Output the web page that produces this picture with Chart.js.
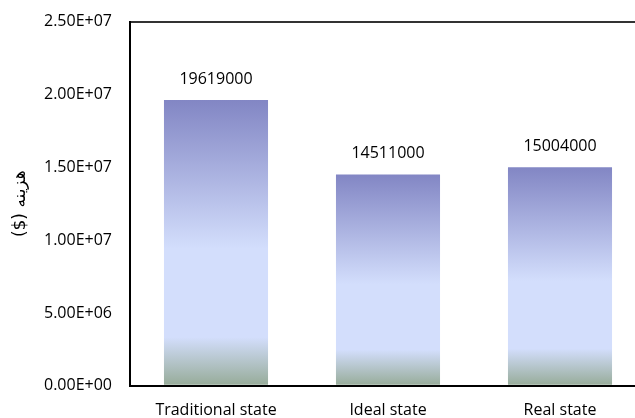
<!DOCTYPE html>
<html>
<head>
<meta charset="utf-8">
<script src="https://cdn.jsdelivr.net/npm/chart.js@4/dist/chart.umd.min.js"></script>
<style>
  html, body { margin: 0; padding: 0; background: #fff; overflow: hidden; }
  #wrap { width: 650px; height: 441px; margin-top: -6px; }
</style>
</head>
<body>
<div id="wrap"><canvas id="graph_cost"></canvas></div>
<script>
/*------------------------------*/
/*           DATA               */
/*------------------------------*/
var categories = ['Traditional state', 'Ideal state', 'Real state']
var costValues = [19619000, 14511000, 15004000]
var yMin = 0
var yMax = 25000000
var yStep = 5000000
var yTitle = '\u202Bهزینه ($)\u202C'

// 2.50E+07 style
function sciLabel(v) {
  var parts = Number(v).toExponential(2).toUpperCase().split('E')
  var exp = parts[1]
  var sign = exp[0]
  var digits = exp.slice(1)
  if (digits.length < 2) digits = '0' + digits
  return parts[0] + 'E' + sign + digits
}

// gradient per bar, top blue -> light -> greenish at base
function barFill(context) {
  var chart = context.chart
  if (!chart.chartArea || context.raw == null) return '#d3dffd'
  var y = chart.scales.y
  var top = y.getPixelForValue(context.raw)
  var base = y.getPixelForValue(0)
  var g = chart.ctx.createLinearGradient(0, top, 0, base)
  g.addColorStop(0, 'rgb(130,134,196)')
  g.addColorStop(0.52, 'rgb(211,222,252)')
  g.addColorStop(0.83, 'rgb(211,222,252)')
  g.addColorStop(1, 'rgb(150,171,152)')
  return g
}

var valueLabels = {
  id: 'valueLabels',
  afterDatasetsDraw: function (chart) {
    var ctx = chart.ctx
    var meta = chart.getDatasetMeta(0)
    ctx.save()
    ctx.font = '16px "Open Sans"'
    ctx.fillStyle = '#000'
    ctx.textAlign = 'center'
    ctx.textBaseline = 'middle'
    meta.data.forEach(function (bar, i) {
      ctx.fillText(String(costValues[i]), bar.x, bar.y - 21)
    })
    ctx.restore()
  }
}

/*------------------------------*/
/*           CHART              */
/*------------------------------*/
var ctx_cost = document.getElementById('graph_cost').getContext('2d')

var data_cost = {
  labels: categories,
  datasets: [{
    data: costValues,
    backgroundColor: barFill,
    borderWidth: 0,
    categoryPercentage: 1,
    barPercentage: 0.605
  }]
}

var config_cost = {
  type: 'bar',
  data: data_cost,
  plugins: [valueLabels],
  options: {
    responsive: true,
    maintainAspectRatio: false,
    animation: false,
    layout: { padding: { top: 6, right: 4, bottom: 0, left: 0 } },
    plugins: {
      legend: { display: false },
      tooltip: { enabled: false }
    },
    scales: {
      x: {
        grid: { display: false, drawTicks: false },
        border: { display: true, color: '#000', width: 2 },
        ticks: { color: '#000', padding: 15, font: { family: 'Open Sans', size: 16 } }
      },
      y: {
        min: yMin,
        max: yMax,
        afterFit: function (scale) { scale.width = 130 },
        grid: {
          drawTicks: false,
          lineWidth: 2,
          color: function (c) { return c.tick && c.tick.value === yMax ? '#333' : 'rgba(0,0,0,0)' }
        },
        border: { display: true, color: '#000', width: 2 },
        ticks: {
          stepSize: yStep,
          color: '#000',
          padding: 18,
          font: { family: 'Open Sans', size: 16 },
          callback: function (v) { return sciLabel(v) }
        },
        title: {
          display: true,
          text: yTitle,
          color: '#000',
          padding: { top: 10, bottom: 0 },
          font: { family: 'DejaVu Sans', size: 17 }
        }
      }
    }
  }
}
var graph_cost = new Chart(ctx_cost, config_cost)
</script>
</body>
</html>
